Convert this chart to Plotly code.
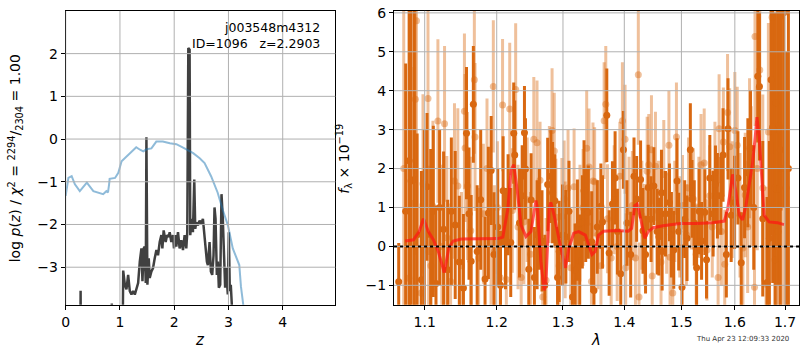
import plotly.graph_objects as go
import numpy as np

# ---------------- redshift panel ----------------
# chi-square curve (scaled), sampled along z
chi_z = [0.0, 0.05, 0.11, 0.17, 0.26, 0.36, 0.39, 0.51, 0.60, 0.69, 0.75, 0.78, 0.80, 0.81,
         0.91, 0.97, 1.03, 1.12, 1.21, 1.30, 1.37, 1.43, 1.49, 1.58, 1.67, 1.79, 1.92, 2.04,
         2.19, 2.35, 2.47, 2.56, 2.68, 2.80, 2.90, 2.99, 3.08, 3.20, 3.23, 3.28]
chi_val = [-1.33, -0.91, -0.87, -1.06, -1.22, -1.06, -1.02, -1.22, -1.25, -1.29, -1.22, -1.25,
           -1.06, -0.93, -0.91, -0.79, -0.52, -0.41, -0.29, -0.19, -0.25, -0.29, -0.24, -0.22,
           -0.06, -0.06, -0.10, -0.12, -0.22, -0.33, -0.45, -0.56, -0.87, -1.25, -1.68, -2.02,
           -2.56, -2.95, -3.45, -3.95]

# log p(z)
pz_z = [0.0, 0.26, 0.275, 0.29, 0.84, 0.85, 0.86, 1.03, 1.06, 1.09, 1.12, 1.151, 1.182, 1.212,
        1.243, 1.274, 1.304, 1.335, 1.366, 1.396, 1.415, 1.439, 1.457, 1.476, 1.488, 1.506,
        1.531, 1.549, 1.58, 1.61, 1.641, 1.672, 1.702, 1.733, 1.764, 1.782, 1.806, 1.843,
        1.868, 1.898, 1.917, 1.947, 1.978, 1.996, 2.021, 2.039, 2.07, 2.10, 2.131, 2.162,
        2.192, 2.223, 2.241, 2.26, 2.284, 2.296, 2.321, 2.345, 2.37, 2.388, 2.407, 2.437,
        2.468, 2.498, 2.529, 2.554, 2.578, 2.603, 2.621, 2.652, 2.676, 2.701, 2.725, 2.743,
        2.762, 2.786, 2.805, 2.823, 2.848, 2.872, 2.896, 2.921, 2.939, 2.958, 2.988, 3.007,
        3.025, 3.043, 3.062, 3.10, 5.0]
pz_val = [-8, -8, -3.55, -8, -8, -3.85, -8, -8, -3.08, -3.41, -3.52, -3.18, -3.56, -3.64,
          -3.56, -3.64, -3.52, -3.37, -2.87, -2.56, -3.33, -2.56, -2.52, -3.37, 0.04, -3.41,
          -2.79, -3.25, -3.10, -3.02, -2.79, -2.60, -2.72, -2.41, -2.25, -2.56, -2.14, -2.41,
          -2.25, -2.29, -2.18, -2.41, -2.25, -2.56, -2.25, -2.52, -2.18, -2.56, -2.37, -2.60,
          -2.25, -2.56, -2.18, 2.13, 2.09, -2.25, -1.87, -2.18, -0.95, -2.10, -1.95, -2.02,
          -1.91, -1.98, -1.87, -2.25, -2.48, -2.87, -2.95, -2.41, -3.10, -3.18, -2.72, -1.60,
          -1.87, -3.18, -2.87, -3.48, -3.41, -1.29, -1.87, -3.18, -3.48, -3.02, -3.64, -2.18,
          -3.56, -3.41, -3.88, -8, -8]

z_ticks = [0, 1, 2, 3, 4]
lnp_ticks = [-3, -2, -1, 0, 1, 2]

# ---------------- spectrum panel ----------------
# (wavelength [um], flux [1e-19], error)
beam_a = [
    (1.066, -0.91, 1.0), (1.075, 0.9, 3.8), (1.0795, 2.2, 6.5), (1.0821, 1.68, 7.0),
    (1.0864, 1.72, 6.0), (1.090, 0.3, 2.6), (1.0956, -0.86, 2.8), (1.0995, 0.6, 2.4),
    (1.1031, 1.53, 1.9), (1.108, 0.3, 2.2), (1.1115, 0.9, 2.2), (1.1151, -0.95, 2.0),
    (1.120, 1.0, 2.0), (1.1254, 0.44, 2.0), (1.131, -0.6, 1.8), (1.136, 0.9, 1.9),
    (1.1413, 0.55, 1.9), (1.147, -0.4, 1.7), (1.1527, -1.07, 1.9), (1.157, 2.91, 1.7),
    (1.1605, 0.84, 1.7), (1.1635, -0.38, 1.7), (1.1666, 3.65, 1.5), (1.172, -0.13, 1.7),
    (1.177, 1.2, 1.8), (1.1832, -0.84, 1.6), (1.188, 0.86, 1.7), (1.192, 1.95, 1.4),
    (1.196, -0.21, 1.6), (1.2015, 0.5, 1.5), (1.2055, -1.0, 1.4), (1.2093, 1.43, 1.4),
    (1.2128, 0.2, 1.3), (1.2166, 1.07, 1.3), (1.2205, 0.1, 1.4), (1.2249, 2.91, 1.3),
    (1.2264, 2.35, 1.4), (1.2335, 0.6, 1.4), (1.2375, 1.3, 1.3), (1.2409, 2.92, 1.2),
    (1.2424, 1.99, 1.3), (1.2474, -0.59, 1.3), (1.2509, 1.19, 1.2), (1.2559, -0.8, 1.3),
    (1.2600, 0.3, 1.4), (1.2635, 0.7, 1.3), (1.2675, 0.14, 1.3), (1.2718, -1.0, 1.3),
    (1.2762, 1.59, 1.2), (1.2813, 1.8, 1.2), (1.2838, 1.38, 1.3), (1.2874, 1.17, 1.2),
    (1.2915, -0.8, 1.3), (1.2941, -0.13, 1.3), (1.2993, 0.29, 1.3), (1.3045, 0.25, 1.2),
    (1.3095, 0.9, 1.3), (1.3150, -1.3, 1.3), (1.3192, -0.61, 1.2), (1.3229, 0.42, 1.3),
    (1.3266, -0.38, 1.2), (1.3308, 0.63, 1.2), (1.3335, 1.43, 1.3), (1.3362, 0.8, 1.2),
    (1.3405, 0.88, 1.2), (1.3459, 0.12, 1.3), (1.3496, -1.13, 1.2), (1.3550, 0.5, 1.2),
    (1.3609, 1.03, 1.1), (1.3636, 0.63, 1.2), (1.3707, 3.37, 1.2), (1.3746, -0.17, 1.1),
    (1.3801, 1.09, 1.1), (1.3845, 1.76, 1.2), (1.3884, 0.38, 1.1), (1.3940, -0.7, 1.1),
    (1.3985, 2.48, 1.0), (1.4045, 0.6, 1.1), (1.4108, -0.21, 1.1), (1.4165, 1.8, 1.0),
    (1.4210, 1.22, 1.1), (1.4278, 1.72, 1.0), (1.4320, 0.4, 1.1), (1.4364, -0.21, 1.0),
    (1.4410, 1.51, 1.1), (1.4460, 0.7, 1.1), (1.4509, 1.55, 1.0), (1.4567, 0.38, 1.1),
    (1.4597, 0.25, 1.0), (1.4643, 1.38, 1.1), (1.4655, -0.13, 1.0), (1.4714, 0.84, 1.1),
    (1.4785, 1.13, 1.0), (1.4820, 0.3, 1.1), (1.4862, -0.09, 1.0), (1.4921, 1.68, 1.1),
    (1.4951, 0.38, 1.0), (1.5011, -1.05, 1.1), (1.5060, 0.7, 1.0), (1.5102, 0.21, 1.1),
    (1.5163, 2.48, 1.2), (1.5193, 1.22, 1.0), (1.5235, 0.6, 1.1), (1.5278, -0.55, 1.1),
    (1.5325, 0.9, 1.1), (1.5370, 0.14, 1.0), (1.5431, 0.88, 1.1), (1.5462, -0.34, 1.0),
    (1.5524, 1.76, 1.1), (1.5586, 0.84, 1.1), (1.5630, 1.59, 1.0), (1.5667, 1.3, 1.1),
    (1.5730, 1.3, 1.0), (1.5774, 2.35, 1.2), (1.5837, -0.21, 1.1), (1.5869, 3.02, 1.3),
    (1.5930, 0.8, 1.2), (1.5996, 1.13, 1.2), (1.6060, 1.76, 1.2), (1.6124, -0.42, 1.3),
    (1.6189, 1.51, 1.3), (1.6254, 1.89, 1.4), (1.6306, 2.52, 1.5), (1.6370, 1.0, 1.6),
    (1.6450, 4.37, 1.7), (1.6483, 4.11, 1.9), (1.6549, 0.71, 2.0), (1.6635, -0.93, 2.2),
    (1.6682, 0.21, 2.5), (1.6716, 4.28, 4.0), (1.6749, 3.06, 4.0), (1.6800, 1.5, 4.5),
    (1.6850, 3.0, 4.0), (1.6904, 2.48, 5.0), (1.6918, 5.92, 5.0), (1.6972, 6.0, 5.0),
    (1.7020, 1.5, 3.5), (1.7070, 2.0, 4.5),
]

beam_b = [
    (1.0725, 2.0, 6.0), (1.0791, -0.82, 3.0), (1.0858, 1.11, 3.5), (1.0877, 3.78, 4.0),
    (1.0891, 5.8, 4.0), (1.0951, -1.2, 2.3), (1.0977, 1.61, 2.3), (1.1044, 3.8, 2.3),
    (1.1052, -0.13, 2.2), (1.1083, -0.5, 2.1), (1.1110, 1.03, 2.2), (1.1177, 3.22, 2.1),
    (1.1230, 0.0, 2.1), (1.1267, 3.15, 2.0), (1.1298, 0.22, 2.1), (1.1350, -0.9, 2.0),
    (1.1403, 1.68, 2.0), (1.1449, 1.55, 2.0), (1.1500, -0.5, 1.9), (1.1541, 3.47, 2.0),
    (1.1550, 2.53, 1.9), (1.1583, 1.55, 1.9), (1.1630, 0.4, 1.9), (1.1680, 4.28, 1.9),
    (1.1690, 2.81, 1.9), (1.1740, -0.3, 1.8), (1.1808, 0.84, 1.8), (1.1860, 2.0, 1.8),
    (1.1918, 0.12, 1.8), (1.1951, 4.11, 1.7), (1.1966, -0.13, 1.7), (1.2010, 1.0, 1.7),
    (1.2050, -0.8, 1.6), (1.2085, 3.63, 1.7), (1.2140, -0.85, 1.6), (1.2190, 3.53, 1.7),
    (1.2229, 0.92, 1.6), (1.2278, 4.03, 1.7), (1.2313, 0.5, 1.6), (1.2360, -0.8, 1.6),
    (1.2400, 0.63, 1.6), (1.2450, 1.2, 1.6), (1.2500, -0.2, 1.6), (1.2550, 2.75, 1.6),
    (1.2599, 2.66, 1.6), (1.2645, 1.7, 1.5), (1.2686, -1.3, 1.5), (1.2737, -0.87, 1.6),
    (1.2788, 1.59, 1.5), (1.2830, 2.98, 1.6), (1.2864, 2.45, 1.5), (1.2889, 0.75, 1.5),
    (1.2940, -0.5, 1.5), (1.2983, 0.77, 1.5), (1.3019, 1.22, 1.5), (1.3035, 0.17, 1.5),
    (1.3080, 1.5, 1.5), (1.3123, -0.55, 1.5), (1.3176, 1.53, 1.5), (1.3220, -0.9, 1.5),
    (1.3270, 0.6, 1.5), (1.3320, 1.0, 1.5), (1.3378, 2.52, 1.5), (1.3416, 2.04, 1.5),
    (1.3455, -0.9, 1.5), (1.3480, 1.68, 1.5), (1.3507, 1.66, 1.4), (1.3560, 0.3, 1.4),
    (1.3610, -0.5, 1.4), (1.3663, 3.23, 1.5), (1.3690, 3.65, 1.5), (1.3718, 0.71, 1.4),
    (1.3780, -0.3, 1.4), (1.3830, 1.2, 1.4), (1.3880, 0.0, 1.4), (1.3925, 1.8, 1.4),
    (1.3968, 3.23, 1.5), (1.4013, 2.75, 1.4), (1.4024, -0.55, 1.4), (1.4080, 0.9, 1.4),
    (1.4137, 1.05, 1.4), (1.4190, -0.3, 1.4), (1.4239, 4.41, 1.8), (1.4251, -1.3, 1.4),
    (1.4300, 0.8, 1.4), (1.4345, 0.3, 1.3), (1.4392, 1.93, 1.4), (1.4420, 2.1, 1.3),
    (1.4467, 2.48, 1.4), (1.4480, -0.76, 1.3), (1.4537, 2.06, 1.4), (1.4590, 0.9, 1.3),
    (1.4635, -0.4, 1.3), (1.4684, 1.85, 1.4), (1.4735, 0.6, 1.3), (1.4775, 2.6, 1.4),
    (1.4795, -0.28, 1.3), (1.4844, -1.2, 1.3), (1.4880, 0.9, 1.3), (1.4910, 2.81, 1.4),
    (1.4970, 0.5, 1.3), (1.5020, 1.05, 1.3), (1.5090, 0.3, 1.3), (1.5130, 1.5, 1.3),
    (1.5180, 1.22, 1.3), (1.5218, 1.22, 1.3), (1.5270, -0.2, 1.3), (1.5320, 1.0, 1.3),
    (1.5360, 2.1, 1.3), (1.5419, 2.14, 1.4), (1.5470, -0.09, 1.3), (1.5520, 1.3, 1.3),
    (1.5570, 0.5, 1.3), (1.5620, 1.9, 1.3), (1.5680, -0.8, 1.4), (1.5699, 3.02, 1.4),
    (1.5743, 0.38, 1.4), (1.5780, 2.68, 1.4), (1.5806, -0.46, 1.4), (1.5860, 3.44, 1.5),
    (1.5901, 2.56, 1.5), (1.5950, 1.2, 1.5), (1.6000, 2.98, 1.5), (1.6047, 2.6, 1.5),
    (1.6100, 0.8, 1.6), (1.6157, -0.04, 1.6), (1.6202, 1.32, 1.6), (1.6250, 0.5, 1.7),
    (1.6287, 2.52, 1.8), (1.6320, 1.8, 1.8), (1.6385, -1.05, 2.0), (1.6395, 5.39, 2.3),
    (1.6440, 2.0, 2.1), (1.6490, 4.53, 2.3), (1.6550, 1.5, 2.4), (1.6615, -0.97, 2.5),
    (1.6662, 2.94, 2.8), (1.6736, 5.89, 3.5), (1.6796, -0.34, 3.0), (1.6816, 3.69, 3.5),
    (1.6836, 1.47, 3.5), (1.6863, 0.38, 3.5), (1.6884, 3.1, 3.5), (1.6950, 2.0, 4.0),
]

# best-fit model spectrum
model_wave = [1.0744, 1.0852, 1.0926, 1.0983, 1.1049, 1.1115, 1.1182, 1.1263, 1.1325, 1.1385,
              1.1499, 1.1780, 1.2019, 1.2089, 1.2162, 1.2210, 1.2250, 1.2299, 1.2358, 1.2432,
              1.2507, 1.2582, 1.2607, 1.2657, 1.2708, 1.2734, 1.2785, 1.2810, 1.2862, 1.2966,
              1.3040, 1.3093, 1.3171, 1.3250, 1.3356, 1.3409, 1.3463, 1.3516, 1.3570, 1.3652,
              1.3872, 1.4067, 1.4124, 1.4180, 1.4220, 1.4266, 1.4352, 1.4409, 1.4496, 1.4671,
              1.4975, 1.5272, 1.5579, 1.5798, 1.5862, 1.5958, 1.6023, 1.6087, 1.6151, 1.6217,
              1.6295, 1.6346, 1.6399, 1.6433, 1.6478, 1.6531, 1.6577, 1.6677, 1.6844, 1.6980]
model_flux = [0.14, 0.17, 0.38, 0.71, 0.38, 0.17, -0.13, -0.67, -0.04, 0.14,
              0.19, 0.19, 0.20, 0.24, 0.96, 1.97, 2.10, 1.47, 0.55, 0.25,
              0.38, 1.18, 0.96, -0.38, -1.13, -0.97, 0.96, 1.13, 0.80, -0.04,
              -0.55, -0.04, 0.34, 0.38, 0.29, 0.04, -0.21, -0.13, 0.29, 0.39,
              0.41, 0.39, 0.46, 1.05, 1.09, 0.80, 0.21, 0.38, 0.48, 0.53,
              0.59, 0.59, 0.61, 0.65, 0.96, 1.85, 1.38, 0.80, 0.68, 1.05,
              1.68, 2.14, 2.81, 3.32, 2.81, 1.55, 0.80, 0.63, 0.61, 0.56]

wave_ticks = [1.1, 1.2, 1.3, 1.4, 1.5, 1.6, 1.7]
flux_ticks = [-1, 0, 1, 2, 3, 4, 5, 6]

a_wave, a_flux, a_err = (list(c) for c in zip(*beam_a))
b_wave, b_flux, b_err = (list(c) for c in zip(*beam_b))

FONT = "DejaVu Sans"
ORANGE = "rgb(217,104,17)"
ORANGE_LIGHT = "rgba(217,104,17,0.42)"
GRID = "#b0b0b0"

fig = go.Figure()

fig.add_trace(go.Scatter(x=pz_z, y=pz_val, mode="lines", xaxis="x", yaxis="y",
                         line=dict(color="rgba(0,0,0,0.75)", width=2.5), showlegend=False))
fig.add_trace(go.Scatter(x=chi_z, y=chi_val, mode="lines", xaxis="x", yaxis="y",
                         line=dict(color="rgba(31,119,180,0.5)", width=2), showlegend=False))

fig.add_trace(go.Scatter(x=a_wave, y=a_flux, mode="markers", xaxis="x2", yaxis="y2",
                         marker=dict(color=ORANGE, size=7, line=dict(width=0)),
                         error_y=dict(type="data", array=a_err, thickness=3, width=0,
                                      color=ORANGE),
                         showlegend=False))
fig.add_trace(go.Scatter(x=b_wave, y=b_flux, mode="markers", xaxis="x2", yaxis="y2",
                         marker=dict(color=ORANGE_LIGHT, size=7, line=dict(width=0)),
                         error_y=dict(type="data", array=b_err, thickness=3, width=0,
                                      color=ORANGE_LIGHT),
                         showlegend=False))
fig.add_trace(go.Scatter(x=model_wave, y=model_flux, mode="lines", xaxis="x2", yaxis="y2",
                         line=dict(color="rgba(255,20,20,0.7)", width=3), showlegend=False))

tickfont = dict(family=FONT, size=14, color="black")
frame = dict(showline=True, linecolor="black", linewidth=1, mirror=True, showgrid=False,
             zeroline=False, ticks="outside", ticklen=4, tickcolor="black", tickfont=tickfont,
             ticklabeloverflow="allow")

fig.update_layout(
    width=800, height=350,
    margin=dict(l=0, r=0, t=0, b=0),
    paper_bgcolor="white", plot_bgcolor="white",
    font=dict(family=FONT, color="black"),
    xaxis=dict(domain=[62 / 800, 333 / 800], range=[0, 4.97], tickvals=z_ticks,
               anchor="y", **frame),
    yaxis=dict(domain=[1 - 304 / 350, 1 - 5 / 350], range=[-3.88, 3.0], tickvals=lnp_ticks,
               anchor="x", **frame),
    xaxis2=dict(domain=[392 / 800, 799 / 800], type="log",
                range=[np.log10(1.06), np.log10(1.729)], tickvals=wave_ticks,
                ticktext=[f"{t:.1f}" for t in wave_ticks], anchor="y2", **frame),
    yaxis2=dict(domain=[1 - 304 / 350, 1 - 5 / 350], range=[-1.5, 6.05], tickvals=flux_ticks,
                anchor="x2", **frame),
)

# grid lines drawn above the data
shapes = []
for t in z_ticks:
    shapes.append(dict(type="line", xref="x", yref="y domain", x0=t, x1=t, y0=0, y1=1,
                       line=dict(color=GRID, width=1), layer="above"))
for t in lnp_ticks:
    shapes.append(dict(type="line", xref="x domain", yref="y", x0=0, x1=1, y0=t, y1=t,
                       line=dict(color=GRID, width=1), layer="above"))
for t in wave_ticks:
    shapes.append(dict(type="line", xref="x2", yref="y2 domain", x0=t, x1=t, y0=0, y1=1,
                       line=dict(color=GRID, width=1), layer="above"))
for t in flux_ticks:
    shapes.append(dict(type="line", xref="x2 domain", yref="y2", x0=0, x1=1, y0=t, y1=t,
                       line=dict(color=GRID, width=1), layer="above"))
# zero level
shapes.append(dict(type="line", xref="x2 domain", yref="y2", x0=0, x1=1, y0=0, y1=0,
                   line=dict(color="black", width=2, dash="dot"), layer="above"))
fig.update_layout(shapes=shapes)

annotations = [
    dict(text="j003548m4312", xref="paper", yref="paper", x=320 / 800, y=1 - 22 / 350,
         xanchor="right", yanchor="middle", showarrow=False,
         font=dict(family=FONT, size=12.5, color="black")),
    dict(text="ID=1096   z=2.2903", xref="paper", yref="paper", x=320 / 800, y=1 - 38 / 350,
         xanchor="right", yanchor="middle", showarrow=False,
         font=dict(family=FONT, size=12.5, color="black")),
    dict(text="<i>z</i>", xref="paper", yref="paper", x=197 / 800, y=1 - 340 / 350,
         xanchor="center", yanchor="middle", showarrow=False,
         font=dict(family=FONT, size=15, color="black")),
    dict(text="<i>λ</i>", xref="paper", yref="paper", x=595 / 800, y=1 - 340 / 350,
         xanchor="center", yanchor="middle", showarrow=False,
         font=dict(family=FONT, size=15, color="black")),
    dict(text="log <i>p</i>(<i>z</i>) / <i>χ</i><sup>2</sup> = "
              "<sup>2294</sup>/<sub>2304</sub> = 1.00",
         xref="paper", yref="paper", x=12 / 800, y=1 - 155 / 350, textangle=-90,
         xanchor="center", yanchor="middle", showarrow=False,
         font=dict(family=FONT, size=14, color="black")),
    dict(text="<i>f</i><sub>λ</sub> × 10<sup>−19</sup>",
         xref="paper", yref="paper", x=342 / 800, y=1 - 155 / 350, textangle=-90,
         xanchor="center", yanchor="middle", showarrow=False,
         font=dict(family=FONT, size=14, color="black")),
    dict(text="Thu Apr 23 12:09:33 2020", xref="paper", yref="paper",
         x=742 / 800, y=1 - 339 / 350, xanchor="center", yanchor="middle",
         showarrow=False, font=dict(family=FONT, size=7, color="#333333")),
]
fig.update_layout(annotations=annotations)

fig.write_html("out.html")
